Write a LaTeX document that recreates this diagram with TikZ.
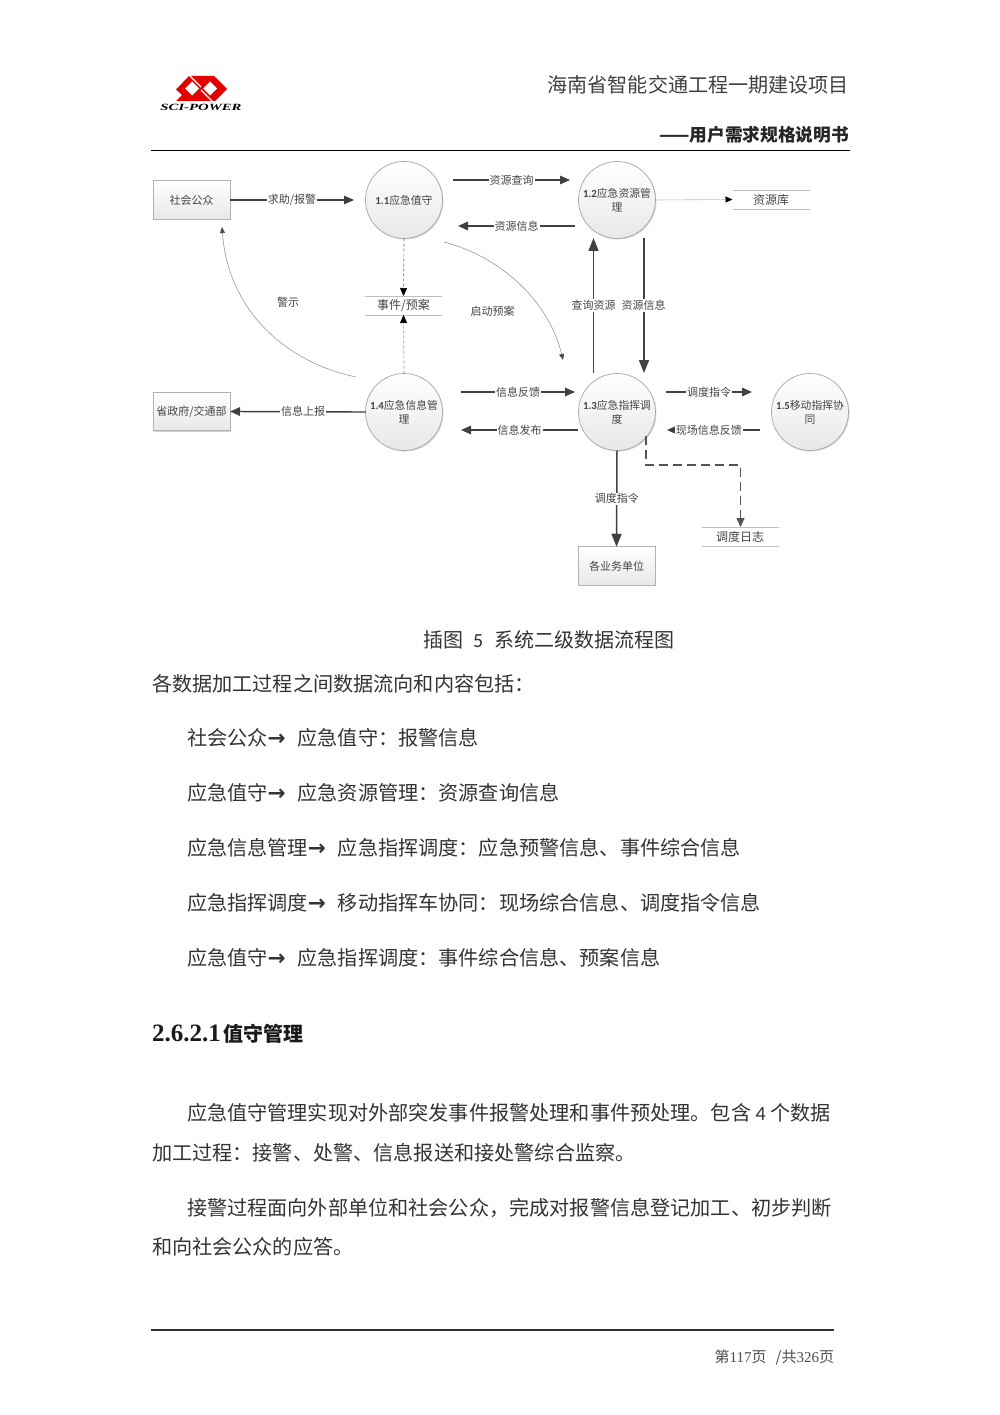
\documentclass[tikz,border=0pt]{standalone}
\usepackage{fontspec}
\setmainfont{Noto Sans CJK SC}
\newfontfamily\lat{Carlito}
\newfontfamily\tms{Liberation Serif}
\newfontfamily\djv{DejaVu Sans}
\usetikzlibrary{arrows.meta,shadows}
\definecolor{txt}{gray}{0.27}
\definecolor{ln}{gray}{0.25}
\tikzset{
 x=1pt,y=-1pt,
 every node/.style={inner sep=0pt,outer sep=0pt,text=txt},
 proc/.style={circle,minimum size=77pt,draw=black!35,line width=0.7pt,top color=white,bottom color=black!9,drop shadow={shadow xshift=1pt,shadow yshift=-1pt,fill=black!25,opacity=.6},align=center,font=\fontsize{10.8}{14}\selectfont},
 ext/.style={rectangle,minimum width=77pt,minimum height=38.5pt,draw=black!30,line width=0.7pt,top color=white,bottom color=black!9,drop shadow={shadow xshift=1pt,shadow yshift=-1pt,fill=black!30,opacity=.6},font=\fontsize{11}{12}\selectfont},
 store/.style={minimum width=77pt,minimum height=19pt,font=\fontsize{12}{12}\selectfont},
 storeline/.style={draw=black!25,line width=0.7pt},
 flow/.style={draw=ln,line width=1.4pt,-{Triangle[length=10pt,width=8.5pt]}},
 flowb/.style={draw=ln,line width=1.5pt,-{Triangle[length=13pt,width=10pt]}},
 thinflow/.style={draw=black!40,line width=0.6pt,-{Triangle[length=6pt,width=5pt,color=black!70]}},
 dflow/.style={draw=black!55,line width=0.7pt,densely dashed,-{Triangle[length=8pt,width=7pt,color=black]}},
 lab/.style={fill=white,inner xsep=1pt,inner ysep=1pt,font=\fontsize{11}{12}\selectfont},
 free/.style={font=\fontsize{11}{12}\selectfont},
 body/.style={anchor=west,font=\fontsize{20.15}{24}\selectfont,text=black!80},
}
\newcommand{\arr}{{\djv\bfseries\fontsize{21.5}{24}\selectfont→}\hspace*{12pt}}
\begin{document}
\begin{tikzpicture}
\useasboundingbox (0,0) rectangle (1000,1415);
\fill[white] (0,0) rectangle (1000,1415);
% logo
\fill[red!90!black] (176,89.5) -- (189,76) -- (214,76) -- (227,89) -- (215,101) -- (176,101) -- (182,95) -- cycle;
\fill[white] (192,81.5) -- (199,88.5) -- (192,95.5) -- (185,88.5) -- cycle;
\fill[white] (210,81.5) -- (217,88.5) -- (210,95.5) -- (203,88.5) -- cycle;
\draw[white,line width=1.1pt] (201,87) -- (188,74);
\draw[white,line width=1.1pt] (201,90) -- (213,102);
\node[font=\tms\bfseries\itshape\fontsize{9.5}{10}\selectfont,text=black,xscale=1.55] (logo) at (201,107.5) {SCI-POWER};
% header
\node[anchor=east,font=\fontsize{20.1}{24}\selectfont,text=black!75] (h1) at (849,85) {海南省智能交通工程一期建设项目};
\node[anchor=east,font=\bfseries\fontsize{17.7}{20}\selectfont,text=black!85] (h2) at (849,134.5) {——用户需求规格说明书};
\draw[black,line width=1.6pt] (151,150.5) -- (849.5,150.5);
% processes
\node[proc] (p1) at (404,200) {{\lat\bfseries 1.1}应急值守};
\node[proc] (p2) at (617,200) {{\lat\bfseries 1.2}应急资源管\\理};
\node[proc] (p3) at (617,412) {{\lat\bfseries 1.3}应急指挥调\\度};
\node[proc] (p4) at (404,412) {{\lat\bfseries 1.4}应急信息管\\理};
\node[proc] (p5) at (810,412) {{\lat\bfseries 1.5}移动指挥协\\同};
\node[ext] (e1) at (191.5,200) {社会公众};
\node[ext] (e2) at (191.5,411.5) {省政府/交通部};
\node[ext] (e3) at (616.5,566) {各业务单位};
\node[store] (s1) at (771,199.5) {资源库};
\node[store] (s2) at (403.5,305.5) {事件/预案};
\node[store] (s3) at (740,536.5) {调度日志};
\foreach \s in {s1,s2,s3}{
 \draw[storeline] (\s.north west) -- (\s.north east);
 \draw[storeline] (\s.south west) -- (\s.south east);
}
% free ends
\coordinate (a1) at (354,200);
\coordinate (b1s) at (453,180); \coordinate (b1e) at (570,180);
\coordinate (b2s) at (575,226); \coordinate (b2e) at (458,226);
\coordinate (c1s) at (593.5,373); \coordinate (c1e) at (593.5,238);
\coordinate (c2s) at (644,238); \coordinate (c2e) at (644,373);
\coordinate (d1s) at (461,392); \coordinate (d1e) at (575,392);
\coordinate (d2s) at (578,430); \coordinate (d2e) at (461,430);
\coordinate (f1s) at (666,392); \coordinate (f1e) at (752,392);
\coordinate (f2s) at (760,430); \coordinate (f2e) at (667,430);
\coordinate (g1s) at (646,436); \coordinate (g1m) at (646,465); \coordinate (g1n) at (740.5,465);
\coordinate (w1s) at (356,377); \coordinate (w1e) at (222,227);
\coordinate (q1s) at (444,242); \coordinate (q1e) at (563,360);
% flows
\draw[flow] (e1.east) -- node[lab]{求助/报警} (a1);
\draw[flow] (b1s) -- node[lab,pos=.5]{资源查询} (b1e);
\draw[flow] (b2s) -- node[lab,pos=.5]{资源信息} (b2e);
\draw[flowb] (c1s) -- (c1e);
\draw[flowb] (c2s) -- (c2e);
\node[lab] (lc1) at (593.5,305.5) {查询资源};
\node[lab] (lc2) at (643.5,305.5) {资源信息};
\draw[flow] (d1s) -- node[lab]{信息反馈} (d1e);
\draw[flow] (d2s) -- node[lab]{信息发布} (d2e);
\draw[flow] (f1s) -- node[lab,pos=.5]{调度指令} (f1e);
\draw[flow] (f2s) -- node[lab,pos=.55]{现场信息反馈} (f2e);
\draw[flow] (p4.west) -- node[lab,pos=.46]{信息上报} (e2.east);
\draw[flowb] (p3.south) -- node[lab,pos=.5]{调度指令} (e3.north);
\draw[draw=ln!90,line width=1.5pt,dash pattern=on 9pt off 5pt,-{Triangle[length=9pt,width=8pt]}] (g1s) -- (g1m) -- (g1n) -- (s3.north -| g1n);
\draw[dflow] (p1.south) -- (s2.north);
\draw[dflow,draw=black!40] (p4.north) -- (s2.south);
\draw[draw=black!60,line width=0.6pt,densely dotted,-{Triangle[length=7pt,width=6pt,color=black]}] (p2.east) -- (s1.west);
\draw[thinflow] (w1s) .. controls (285,362) and (228,310) .. (w1e);
\draw[thinflow] (q1s) .. controls (505,258) and (550,305) .. (q1e);
\node[free] (l1) at (288,302) {警示};
\node[free] (l2) at (492.5,311) {启动预案};
% body
\node[anchor=west,font=\fontsize{20}{22}\selectfont,text=black!80] (cap) at (423,639.5) {插图\hspace*{10pt}{\lat 5}\hspace*{11pt}系统二级数据流程图};
\node[body] (t0) at (152,683.5) {各数据加工过程之间数据流向和内容包括：};
\node[body] (t1) at (187,737.5) {社会公众\arr 应急值守：报警信息};
\node[body] (t2) at (187,792.5) {应急值守\arr 应急资源管理：资源查询信息};
\node[body] (t3) at (187,847.5) {应急信息管理\arr 应急指挥调度：应急预警信息、事件综合信息};
\node[body] (t4) at (187,902.5) {应急指挥调度\arr 移动指挥车协同：现场综合信息、调度指令信息};
\node[body] (t5) at (187,957.5) {应急值守\arr 应急指挥调度：事件综合信息、预案信息};
\node[body,font=\bfseries\fontsize{20}{24}\selectfont,text=black!90] (t6) at (152,1033.5) {{\tms\bfseries\fontsize{25}{24}\selectfont 2.6.2.1}\hspace*{3pt}值守管理};
\node[body] (t7) at (187,1112.5) {应急值守管理实现对外部突发事件报警处理和事件预处理。包含 {\lat 4} 个数据};
\node[body] (t8) at (152,1152.5) {加工过程：接警、处警、信息报送和接处警综合监察。};
\node[body] (t9) at (187,1207.5) {接警过程面向外部单位和社会公众，完成对报警信息登记加工、初步判断};
\node[body] (t10) at (152,1246.5) {和向社会公众的应答。};
% footer
\draw[black!80,line width=1.1pt] (151,1330) -- (834,1330);
\node[anchor=east,font=\fontsize{15}{16}\selectfont,text=black!70] (pg) at (834,1357.5) {第{\tms 117}页\hspace*{9pt}/共{\tms 326}页};
\end{tikzpicture}
\end{document}
